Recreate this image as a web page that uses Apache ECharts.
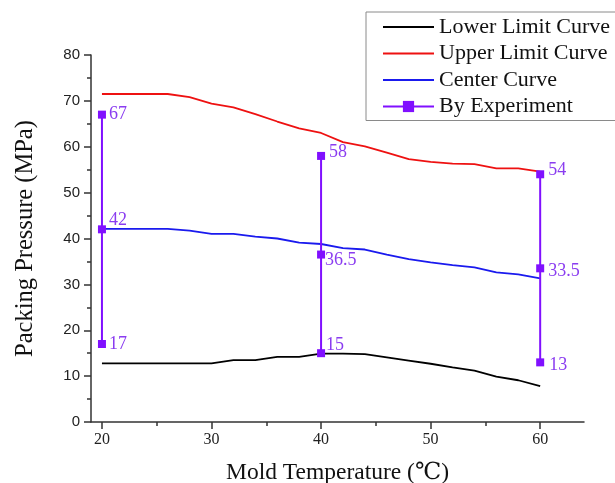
<!DOCTYPE html>
<html>
<head>
<meta charset="utf-8">
<script src="https://cdn.jsdelivr.net/npm/echarts@6/dist/echarts.min.js"></script>
<style>
html,body{margin:0;padding:0;background:#fff;}
#chart{width:615px;height:483px;}
</style>
</head>
<body>
<div id="chart"></div>
<script>
// ---- data ----
const temps = [20, 22, 24, 26, 28, 30, 32, 34, 36, 38, 40, 42, 44, 46, 48, 50, 52, 54, 56, 58, 60];
const lowerLimit = [12.8, 12.8, 12.8, 12.8, 12.8, 12.8, 13.5, 13.5, 14.2, 14.2, 14.9, 14.9, 14.8, 14.1, 13.4, 12.7, 11.9, 11.2, 9.9, 9.1, 7.8];
const upperLimit = [71.5, 71.5, 71.5, 71.5, 70.8, 69.4, 68.6, 67.1, 65.5, 64.0, 63.0, 61.0, 60.1, 58.7, 57.3, 56.7, 56.3, 56.2, 55.3, 55.3, 54.6];
const centerCurve = [42.1, 42.1, 42.1, 42.1, 41.7, 41.0, 41.0, 40.4, 40.0, 39.1, 38.8, 37.9, 37.6, 36.5, 35.5, 34.8, 34.2, 33.7, 32.6, 32.2, 31.3];
const expTemps = [20, 40, 60];
const expHigh = [67, 58, 54];
const expMid = [42, 36.5, 33.5];
const expLow = [17, 15, 13];
const xMajorTicks = [20, 30, 40, 50, 60];
const xMinorTicks = [25, 35, 45, 55];

// ---- label placement (style only) ----
const labelOffsets = [
  [[0, 0], [0, -9], [0, 0]],
  [[1, -4], [-3, 6], [-2, -8]],
  [[1, -4], [1, 3], [2, 3]]
];

const serif = "'Liberation Serif', 'DejaVu Serif', 'Noto Sans CJK SC', serif";
const purple = '#8010ff';
const labelPurple = '#8a3cf0';
const lineIcon = 'path://M0,0L100,0L100,3.6L0,3.6Z';

function pairs(xs, ys) { return xs.map((x, i) => [x, ys[i]]); }

const expSeries = expTemps.map((t, i) => {
  const vals = [expHigh[i], expMid[i], expLow[i]];
  return {
    name: 'By Experiment',
    type: 'line',
    xAxisIndex: 0,
    symbol: 'rect',
    symbolSize: 8,
    itemStyle: { color: purple },
    lineStyle: { color: purple, width: 2 },
    z: 5,
    label: {
      show: true,
      position: 'right',
      distance: 3,
      color: labelPurple,
      fontFamily: serif,
      fontSize: 18,
      formatter: p => String(p.value[1])
    },
    data: vals.map((v, j) => ({ value: [t, v], label: { offset: labelOffsets[i][j] } }))
  };
});

const chart = echarts.init(document.getElementById('chart'), null, { renderer: 'canvas' });
chart.setOption({
  animation: false,
  backgroundColor: '#fff',
  grid: { left: 91, right: 31, top: 55, bottom: 61, containLabel: false, outerBoundsMode: 'none' },
  legend: {
    orient: 'vertical',
    left: 366,
    top: 12,
    itemWidth: 51,
    itemHeight: 14,
    itemGap: 4.5,
    padding: [4, 8, 3, 16],
    borderColor: '#8a8a8a',
    borderWidth: 1,
    textStyle: { fontFamily: serif, fontSize: 22, color: '#111' },
    data: [
      { name: 'Lower Limit Curve', icon: lineIcon },
      { name: 'Upper Limit Curve', icon: lineIcon },
      { name: 'Center Curve', icon: lineIcon },
      { name: 'By Experiment' }
    ]
  },
  xAxis: [{
    type: 'value',
    min: 19,
    max: 64,
    name: 'Mold Temperature (℃)',
    nameLocation: 'middle',
    nameGap: 39,
    nameTextStyle: { fontFamily: serif, fontSize: 23.5, color: '#111' },
    axisLine: { show: true, lineStyle: { color: '#333', width: 1.5 } },
    axisTick: { show: true, inside: false, length: 7, customValues: xMajorTicks, lineStyle: { color: '#333', width: 1.5 } },
    axisLabel: { show: true, customValues: xMajorTicks, margin: 10, fontFamily: serif, fontSize: 16, color: '#222' },
    splitLine: { show: false }
  }, {
    type: 'value',
    min: 19,
    max: 64,
    position: 'bottom',
    axisLine: { show: false },
    axisTick: { show: true, inside: false, length: 4, customValues: xMinorTicks, lineStyle: { color: '#333', width: 1.5 } },
    axisLabel: { show: false },
    splitLine: { show: false }
  }],
  yAxis: {
    type: 'value',
    min: 0,
    max: 80,
    interval: 10,
    name: 'Packing Pressure (MPa)',
    nameLocation: 'middle',
    nameGap: 53,
    nameTextStyle: { fontFamily: serif, fontSize: 24.5, color: '#111' },
    axisLine: { show: true, lineStyle: { color: '#333', width: 1.5 } },
    axisTick: { show: true, inside: false, length: 7, lineStyle: { color: '#333', width: 1.5 } },
    minorTick: { show: true, splitNumber: 2, length: 4, lineStyle: { color: '#333', width: 1.5 } },
    axisLabel: { margin: 11, fontFamily: "'Liberation Sans', Arial, sans-serif", fontSize: 15, color: '#222' },
    splitLine: { show: false }
  },
  series: [
    { name: 'Lower Limit Curve', type: 'line', symbol: 'none', lineStyle: { color: '#000', width: 1.8 }, itemStyle: { color: '#000' }, data: pairs(temps, lowerLimit) },
    { name: 'Upper Limit Curve', type: 'line', symbol: 'none', lineStyle: { color: '#ee1111', width: 1.8 }, itemStyle: { color: '#ee1111' }, data: pairs(temps, upperLimit) },
    { name: 'Center Curve', type: 'line', symbol: 'none', lineStyle: { color: '#1a1aee', width: 1.8 }, itemStyle: { color: '#1a1aee' }, data: pairs(temps, centerCurve) }
  ].concat(expSeries)
});
</script>
</body>
</html>
